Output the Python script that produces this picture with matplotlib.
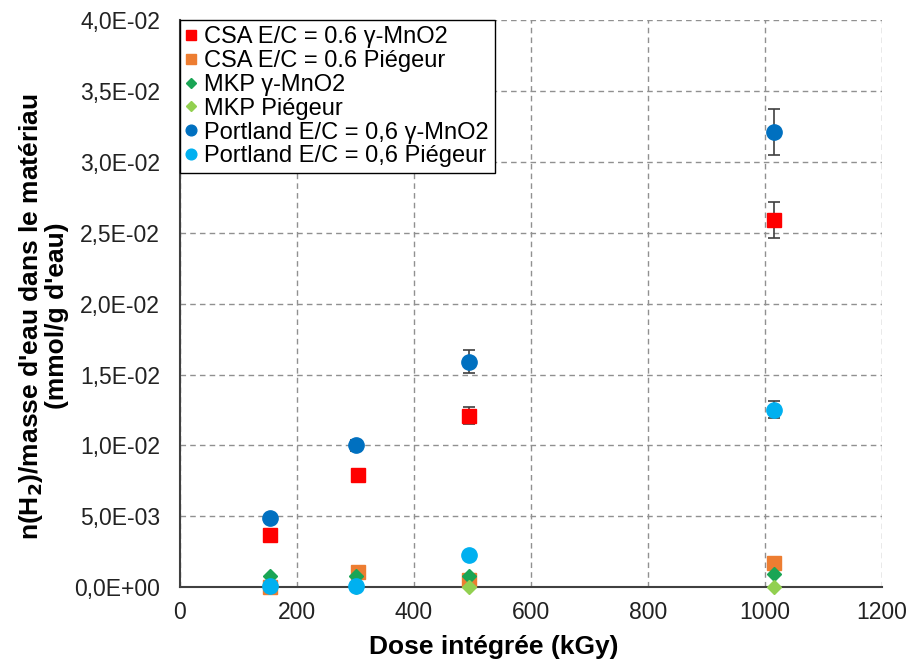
import numpy as np
import matplotlib
matplotlib.use('Agg')
import matplotlib.pyplot as plt
from matplotlib.ticker import FuncFormatter, MultipleLocator

plt.rcParams['font.family'] = ['Liberation Sans', 'DejaVu Sans']

# Data (dose in kGy, H2 in mmol/g d'eau)
dose_csa = [154, 305, 495, 1015]
csa_mno2 = [0.0037, 0.0079, 0.0121, 0.0259]
csa_mno2_err = [0.0, 0.0, 0.0006, 0.0013]
csa_pieg = [0.0, 0.0011, 0.0005, 0.0017]

dose_mkp = [154, 302, 495, 1015]
mkp_mno2 = [0.0008, 0.0008, 0.0008, 0.0009]
mkp_pieg = [0.0001, 0.0, 0.0, 0.0]

dose_port = [154, 302, 495, 1015]
port_mno2 = [0.0049, 0.0100, 0.0159, 0.0321]
port_mno2_err = [0.0, 0.0004, 0.0008, 0.0016]
port_pieg = [0.0001, 0.0001, 0.0023, 0.0125]
port_pieg_err = [0.0, 0.0, 0.0, 0.0006]

series = [
    ("CSA E/C = 0.6 γ-MnO2", dose_csa, csa_mno2, csa_mno2_err, 's', '#FF0000', 10),
    ("CSA E/C = 0.6 Piégeur", dose_csa, csa_pieg, None, 's', '#ED7D31', 10),
    ("MKP γ-MnO2", dose_mkp, mkp_mno2, None, 'D', '#1AA555', 7),
    ("MKP Piégeur", dose_mkp, mkp_pieg, None, 'D', '#92D050', 7),
    ("Portland E/C = 0,6 γ-MnO2", dose_port, port_mno2, port_mno2_err, 'o', '#0070C0', 11),
    ("Portland E/C = 0,6 Piégeur", dose_port, port_pieg, port_pieg_err, 'o', '#00B0F0', 11),
]

fig = plt.figure(figsize=(9.12, 6.71), dpi=100)
ax = fig.add_axes([0.197, 0.125, 0.77, 0.845])

for label, x, y, err, mk, col, ms in series:
    if err is not None:
        ax.errorbar(x, y, yerr=err, fmt='none', ecolor='#404040',
                    elinewidth=1.2, capsize=4, capthick=1.2, zorder=2)
    ax.plot(x, y, linestyle='none', marker=mk, color=col, markersize=ms,
            label=label, zorder=3, clip_on=False)

ax.set_xlim(0, 1200)
ax.set_ylim(0, 0.04)
ax.xaxis.set_major_locator(MultipleLocator(200))
ax.yaxis.set_major_locator(MultipleLocator(0.005))
ax.yaxis.set_major_formatter(FuncFormatter(lambda v, p: f"{v:.1E}".replace('.', ',')))

ax.grid(True, linestyle=(0, (4, 3)), color='#909090', linewidth=1)
ax.set_axisbelow(True)
for s in ['top', 'right']:
    ax.spines[s].set_visible(False)
for s in ['left', 'bottom']:
    ax.spines[s].set_color('#404040')
    ax.spines[s].set_linewidth(1.5)
ax.tick_params(length=0, labelsize=16.5, colors='#222222')
ax.tick_params(axis='y', pad=14)
ax.tick_params(axis='x', pad=10)

ax.set_xlabel("Dose intégrée (kGy)", fontsize=19, fontweight='bold', labelpad=8)
ax.set_ylabel("n(H$_\\mathbf{2}$)/masse d'eau dans le matériau\n(mmol/g d'eau)",
              fontsize=19, fontweight='bold', labelpad=4, linespacing=1.0)
ax.xaxis.label.set_x(0.447)
ax.yaxis.label.set_y(0.478)

leg = ax.legend(loc='upper left', bbox_to_anchor=(0.0, 1.0), fontsize=17,
                frameon=True, fancybox=False, edgecolor='black', framealpha=1,
                markerscale=0.7, handlelength=0.5, handletextpad=0.3,
                borderpad=0.25, labelspacing=0.08, borderaxespad=0)
leg.get_frame().set_linewidth(1.0)

fig.savefig('out.png', dpi=100)
